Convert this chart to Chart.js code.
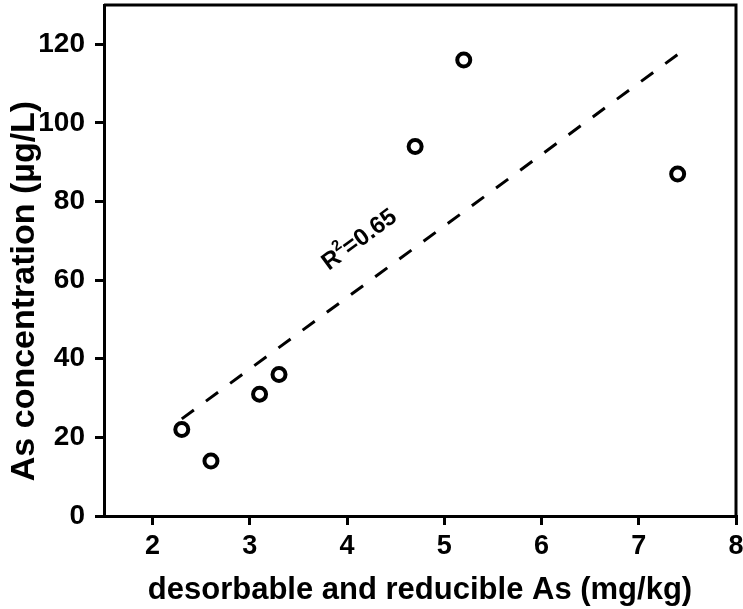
<!DOCTYPE html>
<html>
<head>
<meta charset="utf-8">
<script src="https://cdn.jsdelivr.net/npm/chart.js@4"></script>
<style>
  html, body { margin: 0; padding: 0; background: #fff; }
  #wrap { width: 743px; height: 609px; }
</style>
</head>
<body>
<div id="wrap"><canvas id="chart"></canvas></div>
<script>
// data
const xValues = [2.3, 2.6, 3.1, 3.3, 4.7, 5.2, 7.4];
const yValues = [22, 14, 31, 36, 94, 116, 87];
// regression line end points
const fitX = [2.3, 7.4];
const fitY = [24.7, 117.4];
const labelPos = [4.12, 70.5];

const xTitle = "desorbable and reducible As (mg/kg)";
const yTitle = "As concentration (µg/L)";

const FONT = "'Liberation Sans', Arial, sans-serif";

// frame on top and right, R² label, y title
const extrasPlugin = {
    id: "extras",
    afterDatasetsDraw(chart) {
        const ctx = chart.ctx;
        const a = chart.chartArea;
        ctx.save();
        ctx.strokeStyle = "#000";
        ctx.lineWidth = 3;
        ctx.beginPath();
        ctx.moveTo(a.left, a.top);
        ctx.lineTo(a.right, a.top);
        ctx.lineTo(a.right, a.bottom + 1.5);
        ctx.stroke();
        ctx.restore();

        // R² label along the line
        const xs = chart.scales.x, ys = chart.scales.y;
        const px = xs.getPixelForValue(labelPos[0]);
        const py = ys.getPixelForValue(labelPos[1]);
        const ang = Math.atan2(
            ys.getPixelForValue(fitY[1]) - ys.getPixelForValue(fitY[0]),
            xs.getPixelForValue(fitX[1]) - xs.getPixelForValue(fitX[0]));
        ctx.save();
        ctx.translate(px, py);
        ctx.rotate(ang);
        ctx.fillStyle = "#000";
        ctx.textBaseline = "alphabetic";
        const big = "bold 24px " + FONT, small = "bold 15px " + FONT;
        ctx.font = big;
        const wR = ctx.measureText("R").width;
        const wRest = ctx.measureText("=0.65").width;
        ctx.font = small;
        const w2 = ctx.measureText("2").width;
        let x0 = -(wR + w2 + wRest) / 2;
        ctx.font = big;
        ctx.fillText("R", x0, 8);
        ctx.font = small;
        ctx.fillText("2", x0 + wR, -3);
        ctx.font = big;
        ctx.fillText("=0.65", x0 + wR + w2, 8);
        ctx.restore();

        // y axis title, drawn a bit below the middle like the reference
        ctx.save();
        ctx.translate(25, 291);
        ctx.rotate(-Math.PI / 2);
        ctx.fillStyle = "#000";
        ctx.font = "bold 34px " + FONT;
        ctx.textAlign = "center";
        ctx.textBaseline = "middle";
        ctx.fillText(yTitle, 0, 0);
        ctx.restore();
    }
};

new Chart(document.getElementById("chart"), {
    type: "scatter",
    data: {
        datasets: [
            {
                type: "line",
                data: fitX.map((x, i) => ({ x: x, y: fitY[i] })),
                borderColor: "#000",
                borderWidth: 3,
                borderDash: [15, 15],
                pointRadius: 0,
                fill: false
            },
            {
                data: xValues.map((x, i) => ({ x: x, y: yValues[i] })),
                pointStyle: "circle",
                pointRadius: 6.5,
                pointBorderWidth: 4,
                pointBorderColor: "#000",
                pointBackgroundColor: "#fff"
            }
        ]
    },
    options: {
        responsive: true,
        maintainAspectRatio: false,
        animation: false,
        layout: { autoPadding: false, padding: { top: 5, right: 7, left: 0, bottom: 0 } },
        plugins: { legend: { display: false }, tooltip: { enabled: false } },
        scales: {
            x: {
                type: "linear",
                min: 1.5,
                max: 8,
                border: { color: "#000", width: 3 },
                grid: { drawOnChartArea: false, color: "#000", lineWidth: 3, tickLength: 9 },
                ticks: {
                    stepSize: 1,
                    includeBounds: false,
                    color: "#000",
                    padding: 5,
                    font: { family: FONT, size: 27, weight: "bold" }
                },
                title: {
                    display: true,
                    text: xTitle,
                    color: "#000",
                    padding: { top: 3, bottom: 0 },
                    font: { family: FONT, size: 31, weight: "bold" }
                },
                afterFit: s => {
                    s.height = 609 - 516;
                    s.paddingLeft = 0;
                    s.paddingRight = 0;
                }
            },
            y: {
                min: 0,
                max: 130,
                border: { color: "#000", width: 3 },
                grid: { drawOnChartArea: false, color: "#000", lineWidth: 3, tickLength: 9 },
                ticks: {
                    stepSize: 20,
                    includeBounds: false,
                    color: "#000",
                    padding: 10,
                    font: { family: FONT, size: 28, weight: "bold" }
                },
                afterFit: s => {
                    s.width = 104;
                    s.paddingTop = 0;
                    s.paddingBottom = 0;
                }
            }
        }
    },
    plugins: [extrasPlugin]
});
</script>
</body>
</html>
